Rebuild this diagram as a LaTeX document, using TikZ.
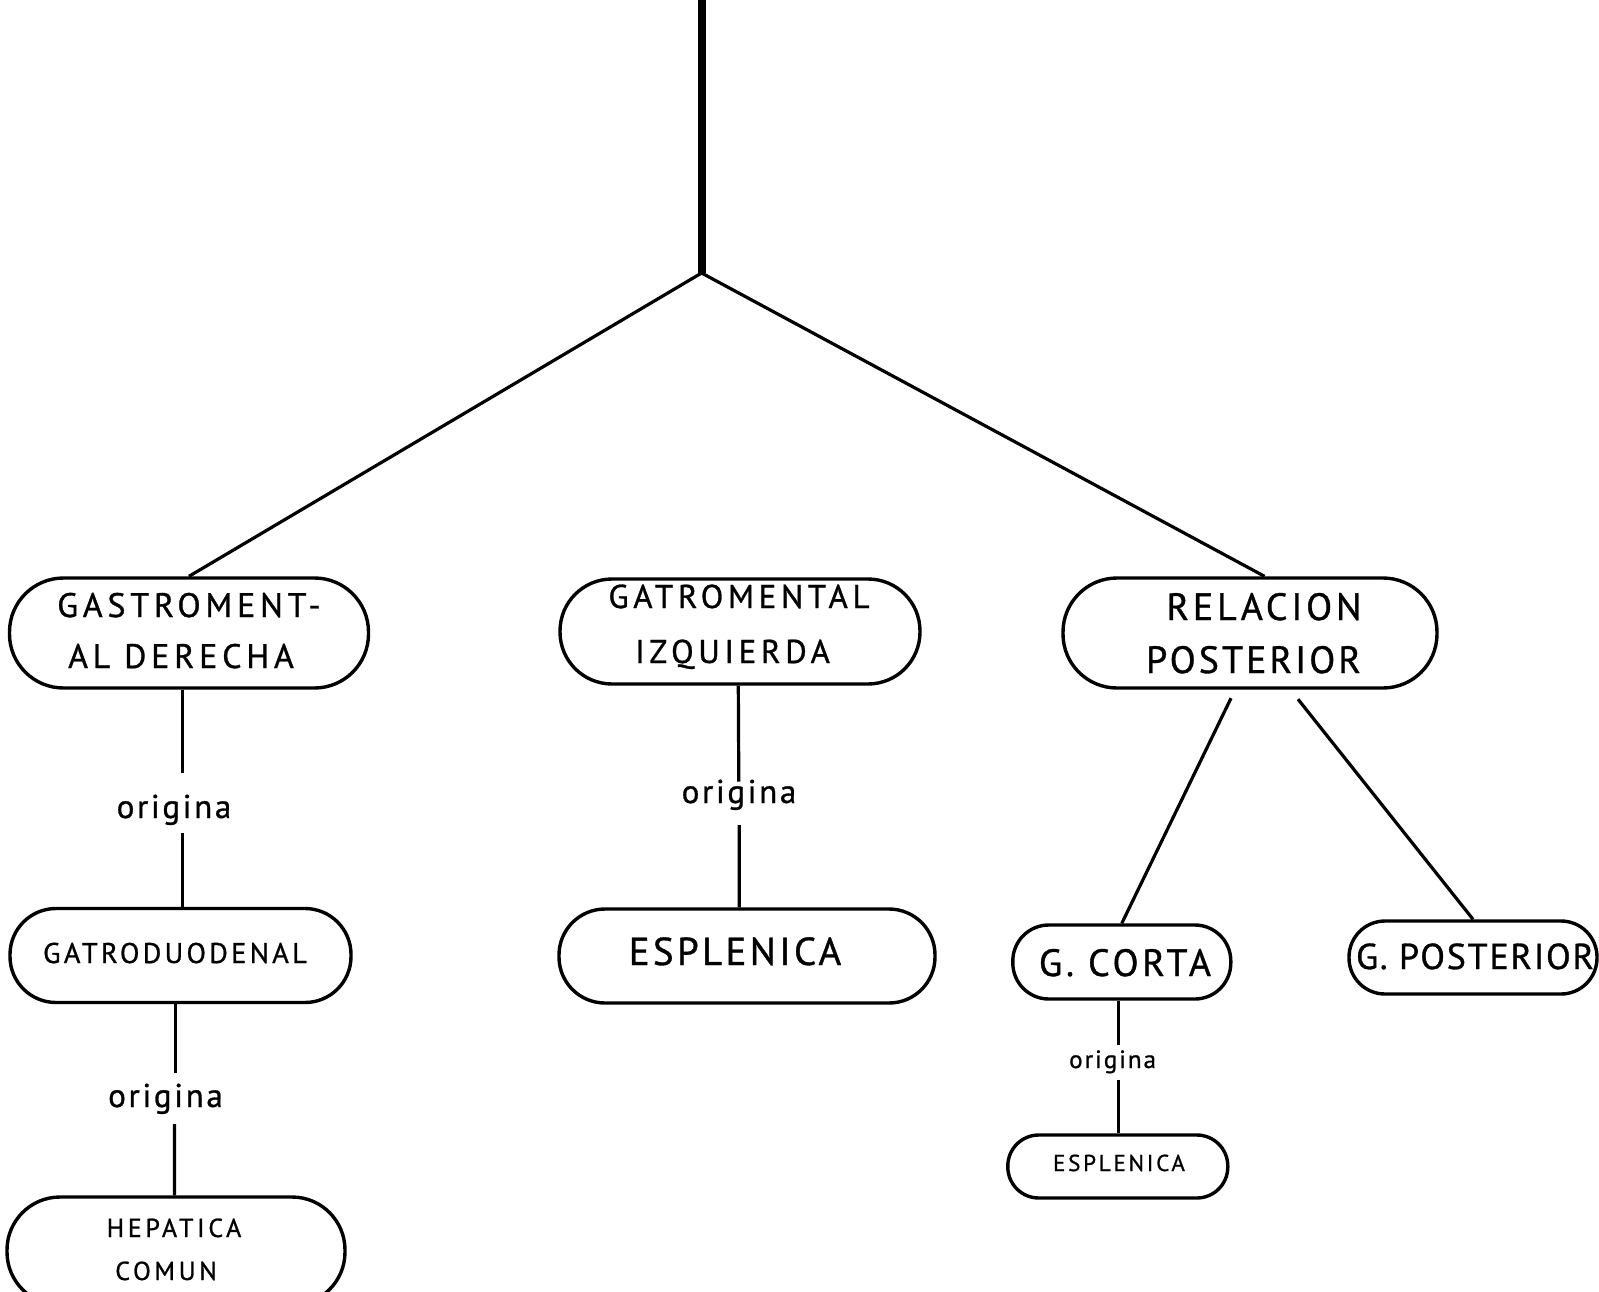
\documentclass[tikz,border=0pt]{standalone}
\usepackage{fontspec}
\setmainfont{PT Sans}[UprightFeatures={FakeBold=0.9}]
\usetikzlibrary{calc}
\newcommand{\fsz}[2]{\fontsize{#1}{#1}\selectfont\addfontfeature{LetterSpace=#2}}
\begin{document}
\begin{tikzpicture}[x=1pt,y=-1pt,
  pill/.style n args={3}{draw, line width=3.4pt, minimum width=#1, minimum height=#2, rounded corners=#3, inner sep=0pt},
  txt/.style={anchor=base, inner sep=0pt},
  conn/.style={line width=3.2pt},
  trunk/.style={line width=8pt}]
\useasboundingbox (0,0) rectangle (1599,1291);

% boxes
\node[pill={359pt}{110pt}{54pt}] (b1) at (189,633) {};
\node[pill={360pt}{105pt}{52pt}] (b2) at (740,631.5) {};
\node[pill={374pt}{110pt}{54pt}] (b3) at (1250,633) {};
\node[pill={341pt}{94pt}{46pt}] (b4) at (180.5,955.5) {};
\node[pill={376pt}{94pt}{46pt}] (b5) at (747,956) {};
\node[pill={338pt}{108pt}{53pt}] (b6) at (176,1251) {};
\node[pill={218pt}{74pt}{36pt}] (b7) at (1121.8,962) {};
\node[pill={248pt}{73pt}{36pt}] (b8) at (1473,957.5) {};
\node[pill={220pt}{63pt}{31pt}] (b9) at (1117.8,1166.5) {};

% texts
\node[txt, font=\fsz{34}{14}] (t1a) at (189,617) {GASTROMENT-};
\node[txt, font=\fsz{34}{14}] (t1b) at (181,668) {AL DERECHA};
\node[txt, font=\fsz{33}{14}] (t2a) at (739,608) {GATROMENTAL};
\node[txt, font=\fsz{33}{14}] (t2b) at (732.5,663) {IZQUIERDA};
\node[txt, font=\fsz{38}{10}] (t3a) at (1264,620) {RELACION};
\node[txt, font=\fsz{38}{8}] (t3b) at (1253.5,673) {POSTERIOR};
\node[txt, font=\fsz{28.5}{11.5}] (t4) at (175,963) {GATRODUODENAL};
\node[txt, font=\fsz{39}{8.5}] (t5) at (735,965) {ESPLENICA};
\node[txt, font=\fsz{26}{14}] (t6a) at (174,1237) {HEPATICA};
\node[txt, font=\fsz{26}{14}] (t6b) at (166,1280) {COMUN};
\node[txt, font=\fsz{38}{10}] (t7) at (1125,976) {G. CORTA};
\node[txt, font=\fsz{36}{5}] (t8) at (1475,969) {G. POSTERIOR};
\node[txt, font=\fsz{23}{12}] (t9) at (1119,1171) {ESPLENICA};

\node[txt, font=\fsz{33}{8}] (o1) at (174,818) {origina};
\node[txt, font=\fsz{33}{8}] (o2) at (739,803) {origina};
\node[txt, font=\fsz{33}{8}] (o3) at (165.5,1107) {origina};
\node[txt, font=\fsz{25}{8}] (o4) at (1112.6,1068) {origina};

% trunk
\coordinate (top) at (701.6,0);
\coordinate (J) at (701.6,273);
\draw[trunk] (top) -- (J);
\draw[conn] (J) -- (b1.north);
\draw[conn] (J) -- ($(b3.north)+(14.5,0)$);

% origina connectors
\coordinate (g1a) at (182.7,772.7);
\coordinate (g1b) at (182.7,833);
\draw[conn] (b1.south -| g1a) -- (g1a);
\draw[conn] (g1b) -- (b4.north -| g1b);

\coordinate (g2a) at (738.8,781.7);
\coordinate (g2b) at (739.2,825);
\draw[conn] ($(b2.south)+(-1.7,0)$) -- (g2a);
\draw[conn] (g2b) -- ($(b5.north)+(-7.7,0)$);

\coordinate (g3a) at (175.6,1073);
\coordinate (g3b) at (174.6,1124);
\draw[conn] ($(b4.south)+(-4.9,0)$) -- (g3a);
\draw[conn] (g3b) -- ($(b6.north)+(-1.6,0)$);

\coordinate (g4a) at (1118.7,1045);
\coordinate (g4b) at (1118.7,1080);
\draw[conn] (b7.south -| g4a) -- (g4a);
\draw[conn] (g4b) -- (b9.north -| g4b);

% relacion posterior branches
\draw[conn] ($(b3.south)+(-19,8.5)$) -- (b7.north);
\draw[conn] ($(b3.south)+(48,9.5)$) -- (b8.north);
\end{tikzpicture}
\end{document}
